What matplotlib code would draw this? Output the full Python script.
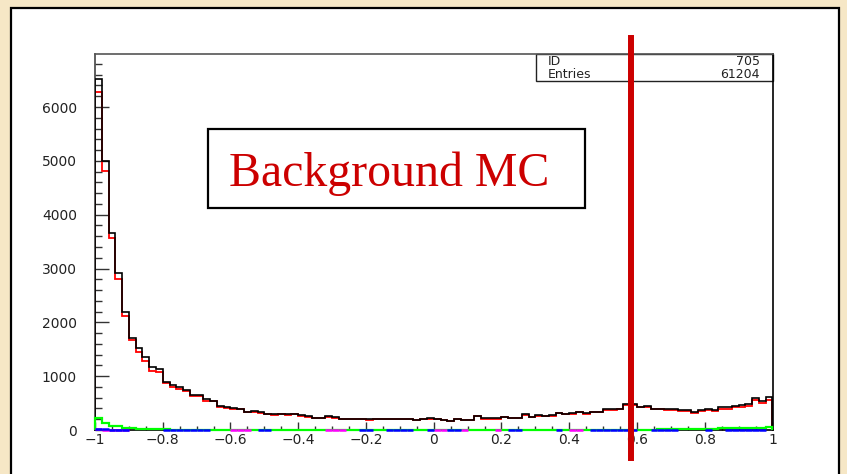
import numpy as np
import matplotlib
matplotlib.use("Agg")
import matplotlib.pyplot as plt
from matplotlib.patches import Rectangle

# ---- histogram contents (100 bins on [-1, 1]) ----
x_lo, x_hi, n_bins = -1.0, 1.0, 100

total = [
    6520, 4990, 3665, 2910, 2187, 1715, 1517, 1350, 1176, 1127,
    897, 836, 793, 743, 650, 644, 576, 545, 452, 427,
    409, 396, 341, 353, 334, 303, 291, 303, 291, 303,
    272, 254, 223, 223, 254, 235, 204, 210, 204, 210,
    198, 205, 205, 210, 205, 210, 210, 186, 205, 217,
    205, 190, 173, 205, 190, 190, 260, 217, 217, 217,
    248, 229, 229, 291, 248, 272, 260, 272, 316, 297,
    310, 341, 310, 341, 341, 390, 390, 395, 477, 477,
    433, 446, 396, 396, 384, 390, 378, 372, 341, 372,
    384, 372, 421, 421, 446, 458, 483, 600, 545, 607,
]

main_bkg = [
    6270, 4805, 3560, 2805, 2118, 1672, 1449, 1282, 1102, 1083,
    867, 805, 768, 718, 632, 632, 545, 533, 433, 415,
    396, 385, 332, 343, 325, 295, 283, 295, 283, 295,
    264, 246, 216, 216, 246, 228, 197, 203, 197, 203,
    190, 198, 198, 203, 198, 203, 203, 179, 198, 210,
    198, 183, 166, 198, 183, 183, 252, 210, 210, 210,
    240, 221, 221, 283, 240, 264, 252, 264, 308, 289,
    301, 332, 301, 332, 332, 380, 380, 385, 466, 466,
    422, 434, 384, 384, 371, 376, 362, 356, 324, 354,
    364, 350, 398, 396, 418, 428, 450, 560, 500, 560,
]

second_bkg = [
    217, 136, 80, 80, 31, 31, 25, 12, 12, 12,
    10, 8, 6, 6, 5, 5, 4, 4, 3, 3,
    3, 2, 3, 2, 2, 3, 2, 2, 3, 2,
    2, 2, 3, 2, 2, 2, 3, 2, 2, 2,
    2, 3, 2, 2, 2, 2, 3, 2, 2, 2,
    2, 2, 3, 2, 2, 2, 2, 3, 2, 2,
    2, 2, 2, 3, 2, 2, 2, 2, 3, 2,
    2, 2, 2, 2, 3, 2, 2, 3, 3, 4,
    5, 6, 8, 10, 12, 15, 18, 20, 20, 22,
    25, 22, 28, 30, 30, 35, 38, 40, 45, 50,
]

third_bkg = [
    14, 10, 8, 6, 4, 0, 0, 0, 0, 0,
    5, 5, 4, 4, 4, 4, 3, 0, 0, 0,
    0, 0, 0, 0, 3, 3, 0, 0, 0, 0,
    0, 0, 0, 0, 0, 0, 0, 0, 0, 3,
    3, 0, 0, 3, 3, 3, 3, 0, 0, 3,
    0, 0, 3, 3, 0, 0, 0, 0, 0, 0,
    0, 3, 3, 0, 0, 0, 0, 0, 3, 0,
    0, 0, 0, 3, 3, 3, 3, 3, 3, 3,
    0, 0, 3, 3, 3, 3, 0, 0, 0, 0,
    3, 0, 0, 3, 3, 3, 3, 3, 3, 0,
]

fourth_bkg = [
    12, 9, 7, 5, 3, 0, 0, 0, 0, 0,
    0, 0, 0, 0, 0, 0, 0, 0, 0, 0,
    3, 3, 3, 0, 0, 0, 0, 0, 0, 0,
    0, 0, 0, 0, 3, 3, 3, 0, 0, 0,
    0, 0, 0, 0, 0, 0, 0, 0, 0, 0,
    3, 3, 0, 0, 3, 0, 0, 0, 0, 3,
    0, 0, 0, 0, 0, 0, 0, 0, 0, 0,
    3, 3, 0, 0, 0, 0, 0, 0, 0, 0,
    0, 0, 0, 0, 0, 0, 0, 0, 0, 0,
    0, 0, 0, 0, 0, 0, 0, 0, 0, 0,
]

cut_value = 0.583
hist_id = "705"
n_entries = "61204"
title_text = "Background MC"

x_major = [-1.0, -0.8, -0.6, -0.4, -0.2, 0.0, 0.2, 0.4, 0.6, 0.8, 1.0]
x_labels = ["\u22121", "\u22120.8", "\u22120.6", "\u22120.4", "\u22120.2",
            "0", "0.2", "0.4", "0.6", "0.8", "1"]
y_major = [0, 1000, 2000, 3000, 4000, 5000, 6000]
y_labels = ["0", "1000", "2000", "3000", "4000", "5000", "6000"]

# ---- figure ----
W, H = 847, 474
fig = plt.figure(figsize=(W / 100, H / 100), dpi=100)
fig.patch.set_facecolor("#F6E7C6")


def fx(px):
    return px / W


def fy(py):
    return 1 - py / H


# white canvas panel
fig.patches.append(Rectangle((fx(11), fy(480)), fx(839) - fx(11), fy(8) - fy(480),
                             transform=fig.transFigure, facecolor="white",
                             edgecolor="black", lw=1.6, zorder=-3))

# statistics box
fig.patches.append(Rectangle((fx(536), fy(81.3)), fx(773) - fx(536), fy(54.3) - fy(81.3),
                             transform=fig.transFigure, facecolor="white",
                             edgecolor="#222222", lw=1.0, zorder=-1))
fig.text(fx(548), fy(61.7), "ID", fontsize=9, va="center", ha="left", color="#222222")
fig.text(fx(760), fy(61.7), hist_id, fontsize=9, va="center", ha="right", color="#222222")
fig.text(fx(548), fy(74.7), "Entries", fontsize=9, va="center", ha="left", color="#222222")
fig.text(fx(760), fy(74.7), n_entries, fontsize=9, va="center", ha="right", color="#222222")

# label box
fig.patches.append(Rectangle((fx(208), fy(208)), fx(585) - fx(208), fy(129) - fy(208),
                             transform=fig.transFigure, facecolor="white",
                             edgecolor="black", lw=1.6, zorder=-1))
fig.text(fx(389.5), fy(185.7), title_text, family="Liberation Serif", fontsize=34.5,
         color="#CC0000", ha="center", va="baseline", zorder=4)

ax = fig.add_axes([fx(95), fy(430), fx(772.5) - fx(95), fy(54) - fy(430)])
ax.set_facecolor("none")
ax.set_zorder(1)

edges = np.linspace(x_lo, x_hi, n_bins + 1)
total = np.array(total, float)
main_bkg = np.array(main_bkg, float)
second_bkg = np.array(second_bkg, float)
third_bkg = np.array(third_bkg, float)
fourth_bkg = np.array(fourth_bkg, float)

ax.stairs(main_bkg, edges, color="#FF0000", lw=1.3, zorder=2)
ax.stairs(total, edges, color="black", lw=1.2, zorder=3)
ax.stairs(second_bkg, edges, color="#00FF00", lw=1.6, zorder=4, clip_on=False)
for vals, col in ((fourth_bkg, "#FF00FF"), (third_bkg, "#0000FF")):
    m = vals > 0
    ax.hlines(vals[m], edges[:-1][m], edges[1:][m], color=col, lw=1.8, zorder=5,
              clip_on=False)

ax.set_xlim(x_lo, x_hi)
ax.set_ylim(0, 6985)

ax.set_xticks(x_major)
ax.set_xticklabels(x_labels)
ax.set_xticks(np.arange(-1.0, 1.0001, 0.05), minor=True)
ax.set_yticks(y_major)
ax.set_yticklabels(y_labels)
ax.set_yticks(np.arange(0, 6985, 200), minor=True)

ax.tick_params(axis="y", which="major", direction="in", length=10, width=1.0,
               pad=13, labelsize=10, color="#333333")
ax.tick_params(axis="y", which="minor", direction="in", length=5, width=1.0,
               color="#333333")
ax.tick_params(axis="x", which="major", direction="in", length=5.8, width=1.0,
               pad=2.5, labelsize=10, color="#333333")
ax.tick_params(axis="x", which="minor", direction="in", length=2.9, width=1.0,
               color="#333333")
for lab in ax.get_xticklabels() + ax.get_yticklabels():
    lab.set_color("#222222")

ax.spines["left"].set_color("#444444")
ax.spines["top"].set_color("#555555")
ax.spines["right"].set_color("black")
ax.spines["bottom"].set_color("black")
for s in ax.spines.values():
    s.set_linewidth(1.2)

# selection cut
ax.axvline(cut_value, ymin=(430 - 458) / 376, ymax=(430 - 38) / 376, clip_on=False,
           color="#CC0000", lw=4.3, zorder=10)

fig.savefig("out.png", dpi=100, facecolor=fig.get_facecolor())
